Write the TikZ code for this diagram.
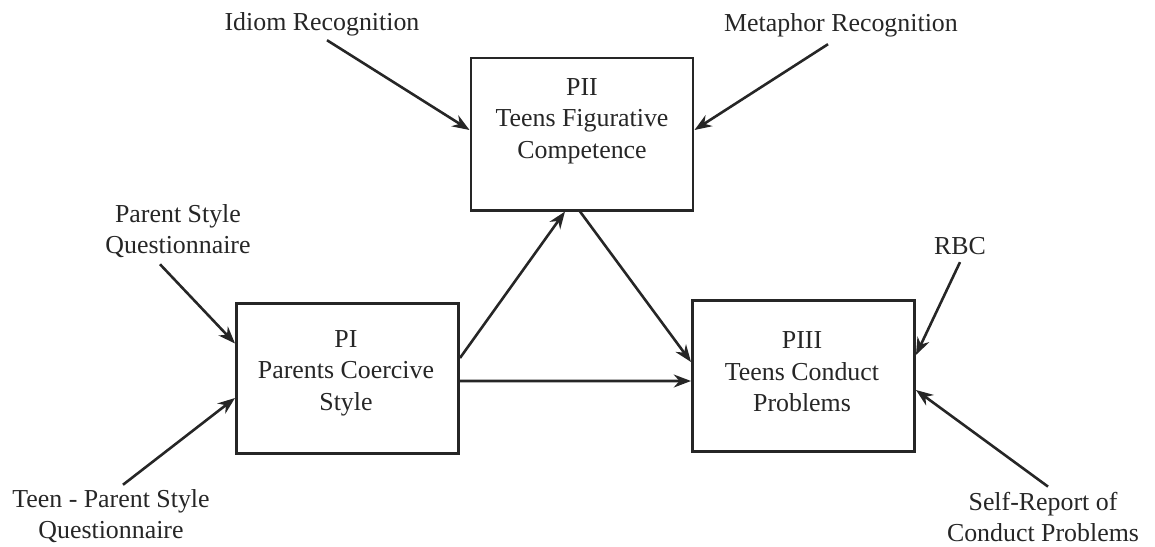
\documentclass[tikz,border=0pt]{standalone}
\usepackage{fontspec}
\setmainfont{Liberation Serif}
\usetikzlibrary{arrows.meta, calc}
\definecolor{inkgray}{RGB}{38, 38, 38}

\begin{document}
\begin{tikzpicture}[x=0.01629cm, y=-0.01629cm,
  box/.style={draw=inkgray, line width=1.3pt, minimum width=3.62cm,
              minimum height=2.45cm, inner sep=0pt},
  boxtext/.style={align=center, text=inkgray, inner sep=0pt,
                  font=\fontsize{12}{14.6}\selectfont},
  lbl/.style={align=center, text=inkgray, inner sep=0pt,
              font=\fontsize{12}{14.6}\selectfont},
  link/.style={draw=inkgray, line width=1.2pt,
               -{Stealth[length=8pt, width=6pt]}}]
  \useasboundingbox (0,0) rectangle (1155,546);

  % the three boxes
  \node[box, minimum height=2.48cm] (p2) at (582,134) {};
  \node[box] (p1) at (347.5,378.5) {};
  \node[box] (p3) at (803.5,376) {};
  \node[boxtext] (p2txt) at (582,121) {PII\\Teens Figurative\\Competence};
  \node[boxtext] (p1txt) at (346,373) {PI\\Parents Coercive\\Style};
  \node[boxtext] (p3txt) at (802,372) {PIII\\Teens Conduct\\Problems};

  % indicators
  \node[lbl] (idiom) at (322,24) {Idiom Recognition};
  \node[lbl] (metaphor) at (841,25) {Metaphor Recognition};
  \node[lbl] (pstyle) at (178,231) {Parent Style\\Questionnaire};
  \node[lbl] (tpstyle) at (111,516) {Teen - Parent Style\\Questionnaire};
  \node[lbl] (rbc) at (960,246) {RBC};
  \node[lbl] (selfrep) at (1043,517) {Self-Report of\\Conduct Problems};

  % indicator arrows
  \draw[link] ($(idiom.south)+(5,4)$) -- ($(p2.west)+(0,-4)$);
  \draw[link] ($(metaphor.south)+(-13,7)$) -- ($(p2.east)+(0,-4)$);
  \draw[link] ($(pstyle.south)+(-18,6)$) -- ($(p1.west)+(0,-35)$);
  \draw[link] ($(tpstyle.north)+(12,-4)$) -- ($(p1.west)+(0,19.5)$);
  \draw[link] ($(rbc.south)+(0,7)$) -- ($(p3.east)+(0,-21)$);
  \draw[link] ($(selfrep.north)+(5,-5)$) -- ($(p3.east)+(0,14)$);

  % paths between constructs
  \draw[link] ($(p1.east)+(0,-20.5)$) -- ($(p2.south)+(-17,0)$);
  \draw[link] ($(p2.south)+(-2,0)$) -- ($(p3.west)+(0,-14)$);
  \draw[link] ($(p1.east)+(0,2.5)$) -- ($(p3.west)+(0,5)$);
\end{tikzpicture}
\end{document}
